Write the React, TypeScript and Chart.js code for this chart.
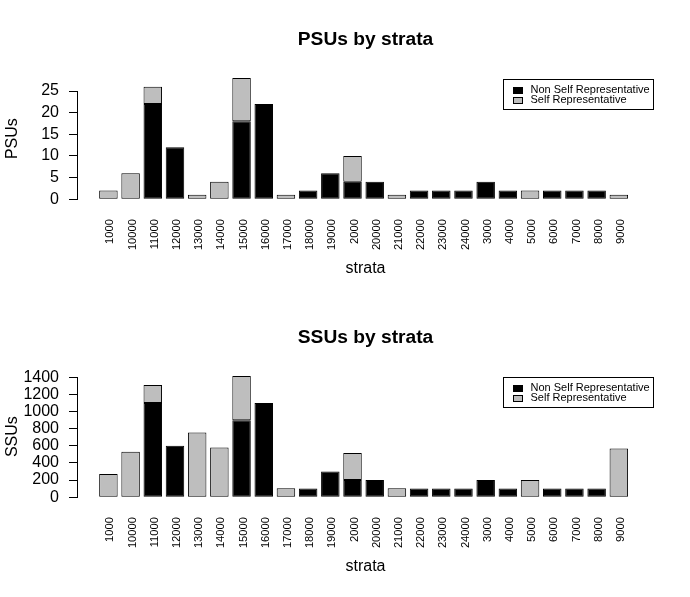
import React, { useEffect, useRef } from "react";
import { Chart, registerables } from "chart.js";

Chart.register(...registerables);
Chart.defaults.font.family = '"Liberation Sans", Arial, sans-serif';
Chart.defaults.color = "#000";

const strata = [
  "1000", "10000", "11000", "12000", "13000", "14000", "15000", "16000",
  "17000", "18000", "19000", "2000", "20000", "21000", "22000", "23000",
  "24000", "3000", "4000", "5000", "6000", "7000", "8000", "9000",
];

const seriesLabels = ["Non Self Representative", "Self Representative"];
const seriesColors = ["#000000", "#BEBEBE"];

const psuNonSelf = [0, 0, 22, 12, 0, 0, 18, 22, 0, 2, 6, 4, 4, 0, 2, 2, 2, 4, 2, 0, 2, 2, 2, 0];
const psuSelf = [2, 6, 4, 0, 1, 4, 10, 0, 1, 0, 0, 6, 0, 1, 0, 0, 0, 0, 0, 2, 0, 0, 0, 1];

const ssuNonSelf = [0, 0, 1100, 600, 0, 0, 900, 1100, 0, 100, 300, 200, 200, 0, 100, 100, 100, 200, 100, 0, 100, 100, 100, 0];
const ssuSelf = [270, 530, 210, 0, 755, 580, 515, 0, 105, 0, 0, 315, 0, 105, 0, 0, 0, 0, 0, 200, 0, 0, 0, 570];

const psuTicks = [0, 5, 10, 15, 20, 25];
const ssuTicks = [0, 200, 400, 600, 800, 1000, 1200, 1400];

// draws the y axis line only between the first and last tick, like base R
const axisLine = {
  id: "axisLine",
  afterDraw(chart: any) {
    const y = chart.scales.y;
    const ticks = y.ticks;
    if (!ticks.length) return;
    const ctx = chart.ctx;
    const x = Math.round(chart.chartArea.left) - 0.5;
    ctx.save();
    ctx.strokeStyle = "#000";
    ctx.lineWidth = 1;
    ctx.beginPath();
    ctx.moveTo(x, Math.round(y.getPixelForValue(ticks[0].value)) + 0.5);
    ctx.lineTo(x, Math.round(y.getPixelForValue(ticks[ticks.length - 1].value)) + 0.5);
    ctx.stroke();
    ctx.restore();
  },
};

// boxed legend in the top right corner of the plot
const boxLegend = {
  id: "boxLegend",
  afterDraw(chart: any) {
    const { ctx, chartArea } = chart;
    const w = 150;
    const h = 30;
    const x0 = Math.round(chartArea.right - w) + 0.5;
    const y0 = Math.round(chartArea.top + 6) + 0.5;
    ctx.save();
    ctx.strokeStyle = "#000";
    ctx.lineWidth = 1;
    ctx.strokeRect(x0, y0, w, h);
    ctx.font = '11px "Liberation Sans", Arial, sans-serif';
    ctx.textBaseline = "middle";
    ctx.textAlign = "left";
    chart.data.datasets.forEach((ds: any, i: number) => {
      const cy = y0 + 10 + i * 10;
      ctx.fillStyle = ds.backgroundColor;
      ctx.fillRect(x0 + 10, Math.round(cy - 3), 9, 6);
      ctx.strokeRect(x0 + 10, Math.round(cy - 3) + 0.5, 9, 6);
      ctx.fillStyle = "#000";
      ctx.fillText(ds.label, x0 + 27, cy + 0.5);
    });
    ctx.restore();
  },
};

interface PanelProps {
  title: string;
  yLabel: string;
  lower: number[];
  upper: number[];
  ticks: number[];
}

const StackedPanel: React.FC<PanelProps> = ({ title, yLabel, lower, upper, ticks }) => {
  const canvasRef = useRef<HTMLCanvasElement | null>(null);

  useEffect(() => {
    if (!canvasRef.current) return;
    const top = Math.max(...lower.map((v, i) => v + upper[i]));

    const chart = new Chart(canvasRef.current, {
      type: "bar",
      data: {
        datasets: [lower, upper].map((values, k) => ({
          label: seriesLabels[k],
          // empty segments are left out so they leave no stray edge
          data: values.map((v, i) => ({ x: i, y: v === 0 ? null : v })),
          backgroundColor: seriesColors[k],
          borderColor: "#000",
          borderWidth: 1,
          borderSkipped: false,
          categoryPercentage: 1,
          barPercentage: 1 / 1.2,
        })),
      },
      options: {
        animation: false,
        responsive: false,
        events: [],
        layout: { padding: { left: 0, right: 37, top: 0, bottom: 0 } },
        plugins: {
          legend: { display: false },
          tooltip: { enabled: false },
          title: {
            display: true,
            text: title,
            fullSize: false,
            color: "#000",
            font: { size: 19.2, weight: "bold" },
            padding: { top: 28.5, bottom: 21.7 },
          },
        },
        scales: {
          x: {
            type: "linear",
            stacked: true,
            offset: false,
            min: -1.37,
            max: strata.length + 0.54,
            grid: { display: false, drawTicks: false, offset: false },
            border: { display: false },
            afterBuildTicks: (s: any) => {
              s.ticks = strata.map((_, i) => ({ value: i }));
            },
            ticks: {
              autoSkip: false,
              minRotation: 90,
              maxRotation: 90,
              padding: 15,
              labelOffset: 2,
              color: "#000",
              font: { size: 11.2 },
              callback: (_v: any, i: number) => strata[i],
            },
            title: {
              display: true,
              text: "strata",
              color: "#000",
              font: { size: 16 },
              padding: { top: 0, bottom: 20 },
            },
            afterFit: (s: any) => {
              s.height = 94;
            },
          },
          y: {
            stacked: true,
            min: -0.04 * top,
            max: 1.04 * top,
            afterBuildTicks: (s: any) => {
              s.ticks = ticks.map((v) => ({ value: v }));
            },
            grid: { drawOnChartArea: false, drawTicks: true, tickLength: 9, color: "#000", lineWidth: 1 },
            border: { display: false },
            ticks: {
              autoSkip: false,
              padding: 10,
              color: "#000",
              font: { size: 16 },
              callback: (v: any) => String(v),
            },
            title: {
              display: true,
              text: yLabel,
              color: "#000",
              font: { size: 16 },
              padding: { top: 3, bottom: 0 },
            },
            afterFit: (s: any) => {
              s.width = 78;
            },
          },
        },
      } as any,
      plugins: [axisLine, boxLegend],
    });

    return () => {
      chart.destroy();
    };
  }, [title, yLabel, lower, upper, ticks]);

  return <canvas ref={canvasRef} width={690} height={298} style={{ display: "block" }} />;
};

export default function App() {
  return (
    <div style={{ position: "fixed", left: 0, top: 0, width: 690, height: 597, background: "#fff" }}>
      <div style={{ position: "absolute", left: 0, top: 0 }}>
        <StackedPanel title="PSUs by strata" yLabel="PSUs" lower={psuNonSelf} upper={psuSelf} ticks={psuTicks} />
      </div>
      <div style={{ position: "absolute", left: 0, top: 298 }}>
        <StackedPanel title="SSUs by strata" yLabel="SSUs" lower={ssuNonSelf} upper={ssuSelf} ticks={ssuTicks} />
      </div>
    </div>
  );
}
